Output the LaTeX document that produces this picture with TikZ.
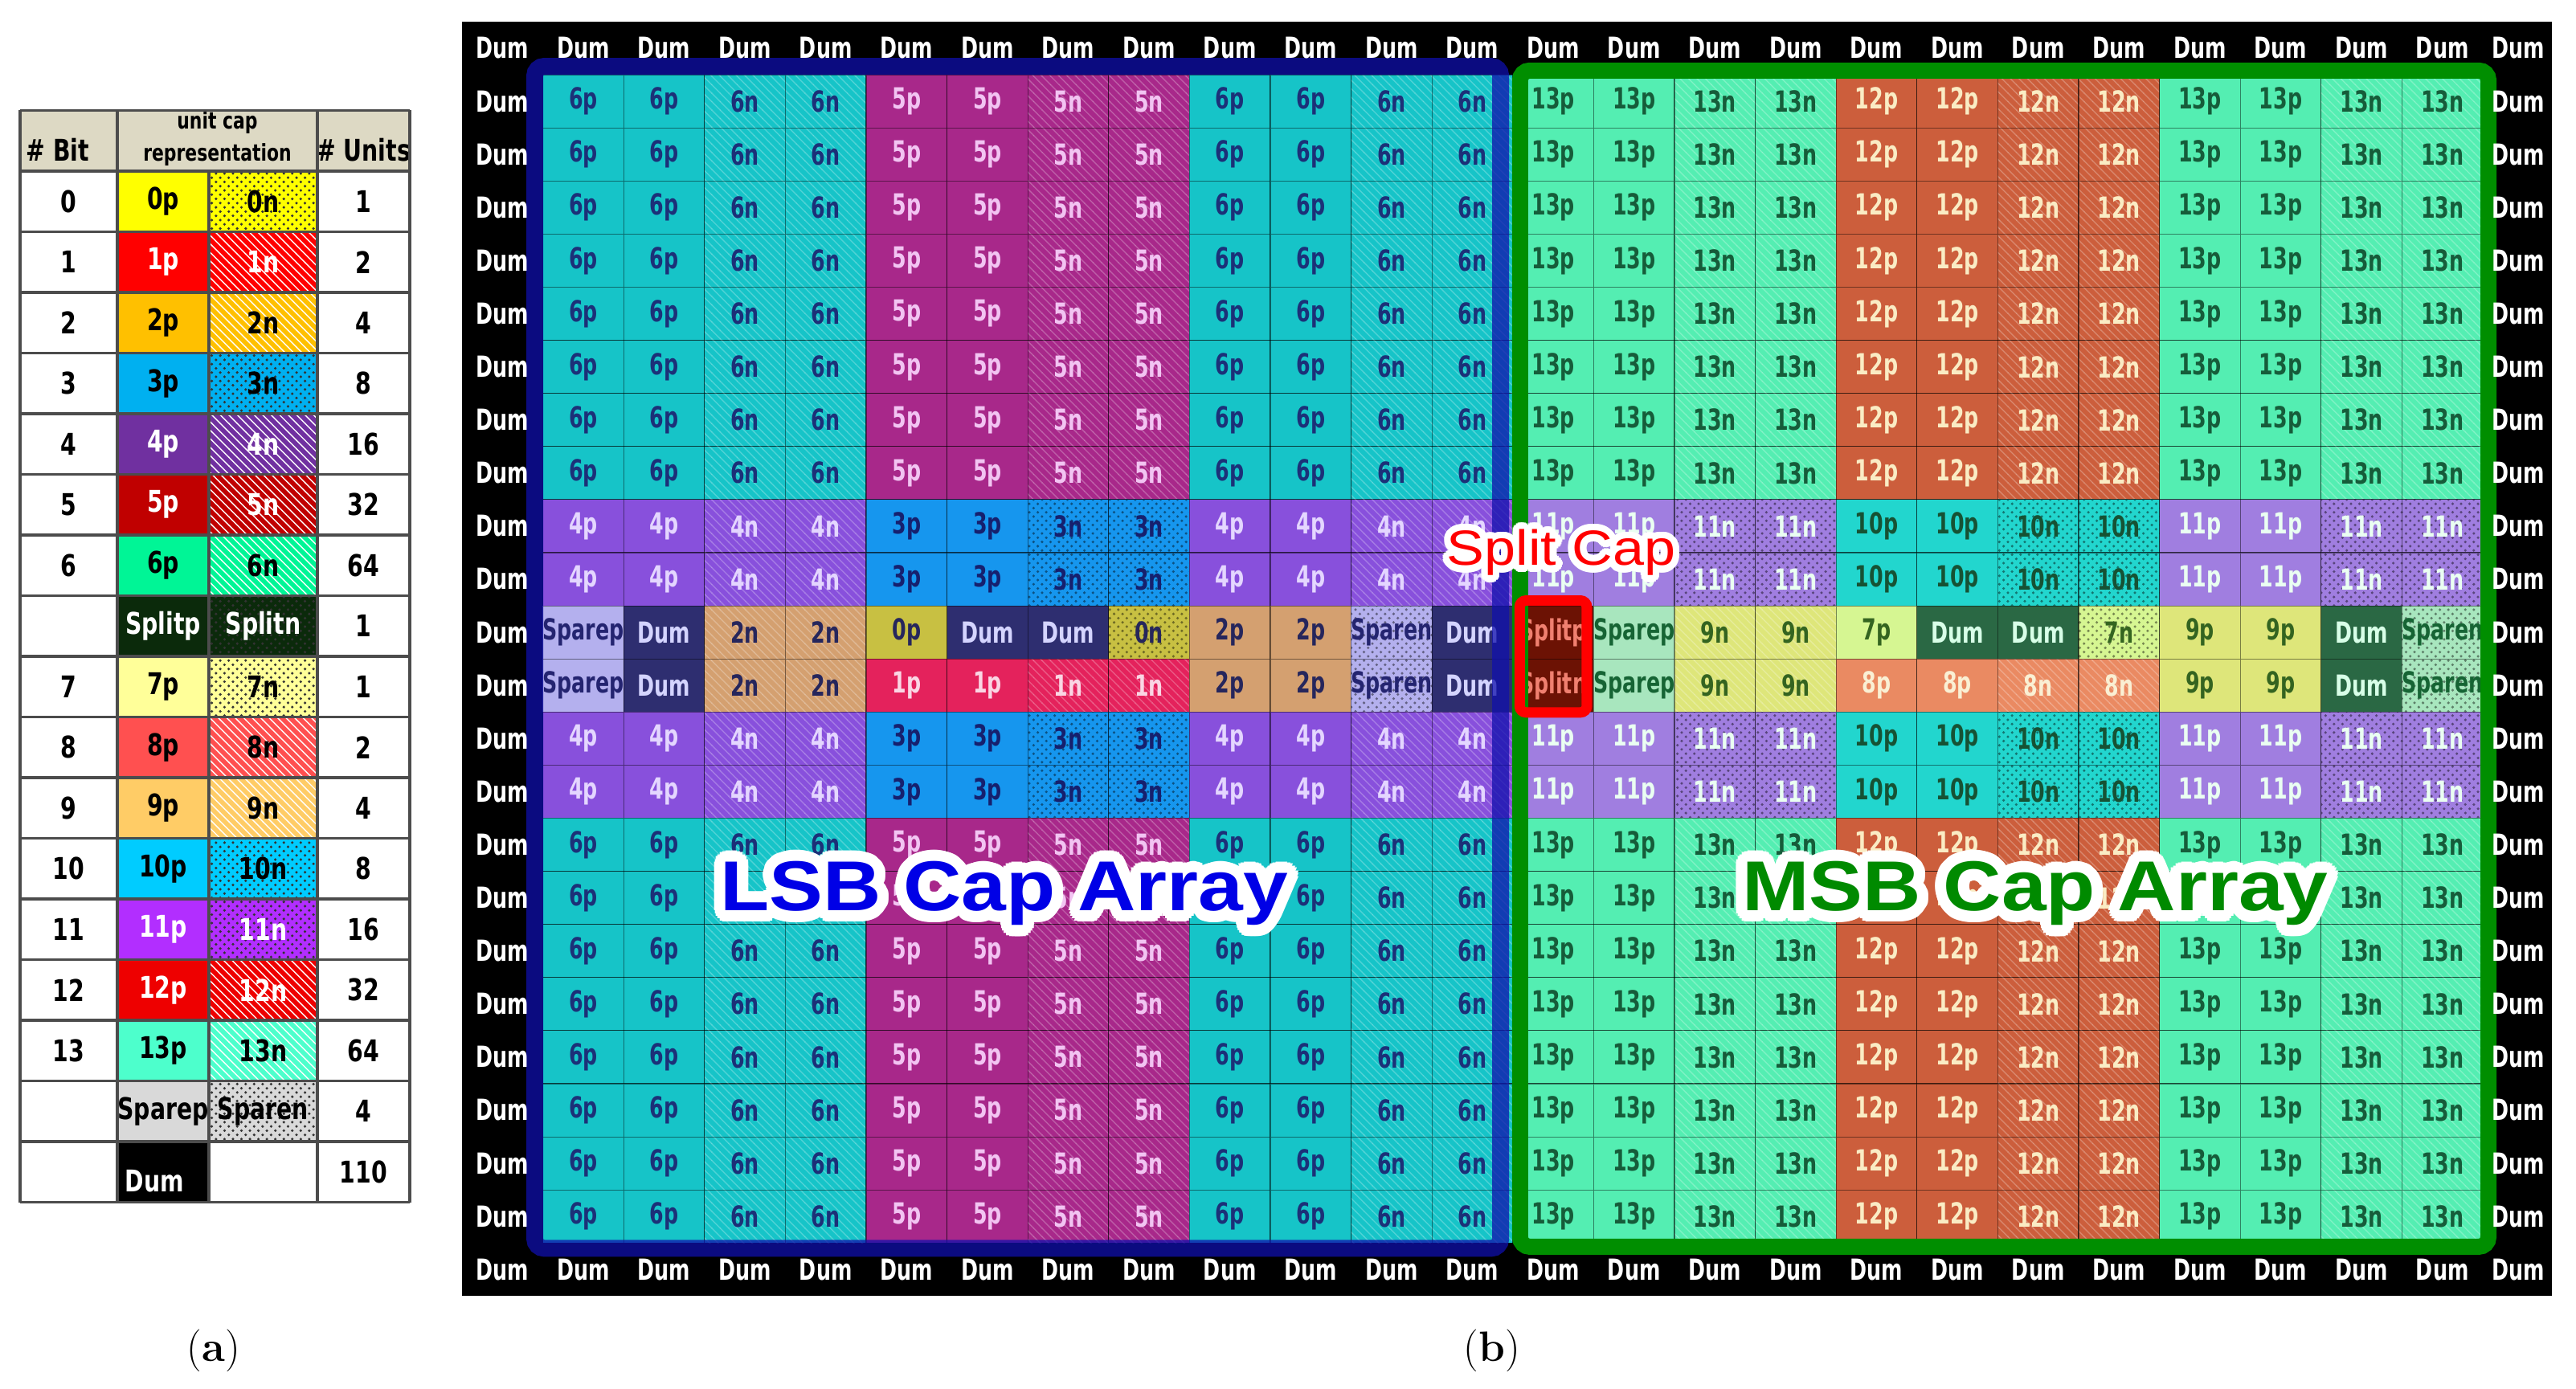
\documentclass[tikz,border=0pt]{standalone}
\usepackage{fontspec}
\usetikzlibrary{patterns,calc,fit}

\newfontfamily\cellfont[FakeStretch=0.70]{DejaVu Sans}
\newfontfamily\tabfont[FakeStretch=0.76]{DejaVu Sans}
\newfontfamily\labelfont[FakeStretch=1.14]{Liberation Sans}

% legend colours
\definecolor{headbg}{RGB}{221,217,196}
\definecolor{T0}{RGB}{255,255,0}
\definecolor{T1}{RGB}{255,0,0}
\definecolor{T2}{RGB}{255,192,0}
\definecolor{T3}{RGB}{0,176,240}
\definecolor{T4}{RGB}{112,48,160}
\definecolor{T5}{RGB}{192,0,0}
\definecolor{T6}{RGB}{0,245,150}
\definecolor{TS}{RGB}{11,42,11}
\definecolor{T7}{RGB}{255,255,153}
\definecolor{T8}{RGB}{255,80,80}
\definecolor{T9}{RGB}{255,204,102}
\definecolor{T10}{RGB}{0,204,255}
\definecolor{T11}{RGB}{178,46,255}
\definecolor{T12}{RGB}{238,0,0}
\definecolor{T13}{RGB}{77,255,204}
\definecolor{TSp}{RGB}{217,217,217}
% array colours, LSB half
\definecolor{L6}{RGB}{22,196,200}  \definecolor{L6t}{RGB}{28,48,120}
\definecolor{L5}{RGB}{168,40,138}  \definecolor{L5t}{RGB}{242,196,242}
\definecolor{L4}{RGB}{136,80,220}  \definecolor{L4t}{RGB}{228,214,255}
\definecolor{L3}{RGB}{22,150,238}  \definecolor{L3t}{RGB}{22,32,110}
\definecolor{L2}{RGB}{212,160,112} \definecolor{L2t}{RGB}{38,38,92}
\definecolor{L1}{RGB}{228,34,92}   \definecolor{L1t}{RGB}{250,214,228}
\definecolor{L0}{RGB}{200,192,66}  \definecolor{L0t}{RGB}{38,38,92}
\definecolor{LSp}{RGB}{180,176,238}\definecolor{LSpt}{RGB}{36,36,112}
\definecolor{LD}{RGB}{46,46,112}   \definecolor{LDt}{RGB}{212,212,255}
% array colours, MSB half
\definecolor{M13}{RGB}{84,238,178} \definecolor{M13t}{RGB}{22,92,58}
\definecolor{M12}{RGB}{204,94,60}  \definecolor{M12t}{RGB}{250,236,196}
\definecolor{M11}{RGB}{160,126,224}\definecolor{M11t}{RGB}{234,255,242}
\definecolor{M10}{RGB}{34,214,206} \definecolor{M10t}{RGB}{22,82,52}
\definecolor{M9}{RGB}{222,230,122} \definecolor{M9t}{RGB}{52,100,32}
\definecolor{M8}{RGB}{234,138,98}  \definecolor{M8t}{RGB}{250,240,212}
\definecolor{M7}{RGB}{214,246,146} \definecolor{M7t}{RGB}{52,100,32}
\definecolor{MSp}{RGB}{168,230,190}\definecolor{MSpt}{RGB}{22,100,52}
\definecolor{MD}{RGB}{42,104,68}   \definecolor{MDt}{RGB}{216,255,232}
\definecolor{MS}{RGB}{108,18,4}    \definecolor{MSt}{RGB}{240,128,112}
\definecolor{LF}{RGB}{16,16,172}
\definecolor{MF}{RGB}{0,142,0}
\definecolor{lsbtext}{RGB}{0,0,230}
\definecolor{msbtext}{RGB}{0,138,0}

% row contents of the two halves
\def\lsbA{6p,6p,6n,6n,5p,5p,5n,5n,6p,6p,6n,6n}
\def\lsbB{4p,4p,4n,4n,3p,3p,3n,3n,4p,4p,4n,4n}
\def\lsbC{Sparep,Dum,2n,2n,0p,Dum,Dum,0n,2p,2p,Sparen,Dum}
\def\lsbD{Sparep,Dum,2n,2n,1p,1p,1n,1n,2p,2p,Sparen,Dum}
\def\msbA{13p,13p,13n,13n,12p,12p,12n,12n,13p,13p,13n,13n}
\def\msbB{11p,11p,11n,11n,10p,10p,10n,10n,11p,11p,11n,11n}
\def\msbC{Splitp,Sparep,9n,9n,7p,Dum,Dum,7n,9p,9p,Dum,Sparen}
\def\msbD{Splitn,Sparep,9n,9n,8p,8p,8n,8n,9p,9p,Dum,Sparen}

\tikzset{
  cell/.style={draw=black, draw opacity=0.45, line width=0.3pt,
    minimum width=1.006cm, minimum height=0.661cm, inner sep=0pt,
    font=\cellfont\bfseries\fontsize{10.3}{11}\selectfont},
  dumtxt/.style={text=white, inner sep=0pt,
    font=\cellfont\bfseries\fontsize{10.3}{11}\selectfont},
  capp/.style 2 args={fill=#1, text=#2},
  capn/.style 2 args={preaction={fill=#1}, pattern=north west lines,
    pattern color=white!55!#1, text=#2},
  capd/.style 2 args={preaction={fill=#1}, pattern=crosshatch dots,
    pattern color=black!45!#1, text=#2},
  lsb/6p/.style={capp={L6}{L6t}}, lsb/6n/.style={capn={L6}{L6t}},
  lsb/5p/.style={capp={L5}{L5t}}, lsb/5n/.style={capn={L5}{L5t}},
  lsb/4p/.style={capp={L4}{L4t}}, lsb/4n/.style={capn={L4}{L4t}},
  lsb/3p/.style={capp={L3}{L3t}}, lsb/3n/.style={capd={L3}{L3t}},
  lsb/2p/.style={capp={L2}{L2t}}, lsb/2n/.style={capn={L2}{L2t}},
  lsb/1p/.style={capp={L1}{L1t}}, lsb/1n/.style={capn={L1}{L1t}},
  lsb/0p/.style={capp={L0}{L0t}}, lsb/0n/.style={capd={L0}{L0t}},
  lsb/Sparep/.style={capp={LSp}{LSpt}}, lsb/Sparen/.style={capd={LSp}{LSpt}},
  lsb/Dum/.style={capp={LD}{LDt}},
  msb/13p/.style={capp={M13}{M13t}}, msb/13n/.style={capn={M13}{M13t}},
  msb/12p/.style={capp={M12}{M12t}}, msb/12n/.style={capn={M12}{M12t}},
  msb/11p/.style={capp={M11}{M11t}}, msb/11n/.style={capd={M11}{M11t}},
  msb/10p/.style={capp={M10}{M10t}}, msb/10n/.style={capd={M10}{M10t}},
  msb/9p/.style={capp={M9}{M9t}},   msb/9n/.style={capn={M9}{M9t}},
  msb/8p/.style={capp={M8}{M8t}},   msb/8n/.style={capn={M8}{M8t}},
  msb/7p/.style={capp={M7}{M7t}},   msb/7n/.style={capd={M7}{M7t}},
  msb/Splitp/.style={capp={MS}{MSt}}, msb/Splitn/.style={capp={MS}{MSt}},
  msb/Sparep/.style={capp={MSp}{MSpt}}, msb/Sparen/.style={capd={MSp}{MSpt}},
  msb/Dum/.style={capp={MD}{MDt}},
  tabcell/.style={minimum height=0.755cm, inner sep=0pt,
    font=\tabfont\bfseries\fontsize{10.6}{12}\selectfont},
  tabhead/.style={inner sep=0pt, font=\tabfont\bfseries\fontsize{10.6}{12}\selectfont},
  tabsub/.style={inner sep=0pt, font=\tabfont\bfseries\fontsize{8.2}{9}\selectfont},
  tab lines/.style={preaction={fill=#1}, pattern=north west lines, pattern color=white},
  tab dots/.style={preaction={fill=#1}, pattern=crosshatch dots, pattern color=black!80},
  tabline/.style={draw=black!70, line width=0.9pt},
  lsb frame/.style={draw=LF, draw opacity=0.75, line width=0.21cm, rounded corners=0.12cm},
  msb frame/.style={draw=MF, line width=0.20cm, rounded corners=0.12cm},
  split box/.style={draw=red, line width=0.13cm, rounded corners=0.08cm,
    inner xsep=-0.09cm, inner ysep=0.03cm, yshift=0.03cm},
  array label/.style={anchor=base, inner sep=0pt,
    font=\labelfont\bfseries\fontsize{25}{30}\selectfont},
  split label/.style={anchor=base, inner sep=0pt,
    font=\labelfont\fontsize{17.5}{21}\selectfont},
  caption/.style={inner sep=0pt, font=\fontsize{15}{18}\selectfont}
}

\begin{document}
\begin{tikzpicture}
  \path[use as bounding box, fill=white] (0,0) rectangle (32.06,17.29);

  % (a) legend table
  \begin{scope}[shift={(0.25,15.16)}, y=-0.755cm]
    \fill[headbg] (0,-1) rectangle (4.85,0);
    \node[tabhead, anchor=base west] (bithead) at (0.07,-0.17) {\# Bit};
    \node[tabsub, anchor=base] (rephead1) at (2.455,-0.69) {unit cap};
    \node[tabsub, anchor=base] (rephead2) at (2.455,-0.17) {representation};
    \node[tabhead, anchor=base] (unithead) at (4.275,-0.17) {\# Units};
    \foreach \b/\p/\n/\u/\col/\fg/\pat [count=\k] in {
        0/0p/0n/1/T0/black/dots, 1/1p/1n/2/T1/white/lines,
        2/2p/2n/4/T2/black/lines, 3/3p/3n/8/T3/black/dots,
        4/4p/4n/16/T4/white/lines, 5/5p/5n/32/T5/white/lines,
        6/6p/6n/64/T6/black/lines, /Splitp/Splitn/1/TS/white/dots,
        7/7p/7n/1/T7/black/dots, 8/8p/8n/2/T8/black/lines,
        9/9p/9n/4/T9/black/lines, 10/10p/10n/8/T10/black/dots,
        11/11p/11n/16/T11/white/dots, 12/12p/12n/32/T12/white/lines,
        13/13p/13n/64/T13/black/lines, /Sparep/Sparen/4/TSp/black/dots} {
      \node[tabcell, minimum width=1.21cm] (bit-\k) at (0.605,\k-0.5) {\b};
      \node[tabcell, minimum width=1.14cm, fill=\col, text=\fg] (p-\k) at (1.78,\k-0.5) {\p};
      \node[tabcell, minimum width=1.35cm, tab \pat=\col, text=\fg] (n-\k) at (3.025,\k-0.5) {\n};
      \node[tabcell, minimum width=1.15cm] (units-\k) at (4.275,\k-0.5) {\u};
    }
    \fill[black] (1.21,16) rectangle (2.35,17);
    \node[tabhead, text=white, anchor=base west] (dumkey) at (1.30,16.83) {Dum};
    \node[tabcell, minimum width=1.15cm] (units-17) at (4.275,16.5) {110};
    \foreach \k in {-1,0,...,17} \draw[tabline] (0,\k) -- (4.85,\k);
    \foreach \x in {0,1.21,3.70,4.85} \draw[tabline] (\x,-1) -- (\x,17);
    \draw[tabline] (2.35,0) -- (2.35,17);
  \end{scope}

  % (b) the cap array, one unit per cell
  \begin{scope}[shift={(5.75,17.02)}, x=1.006cm, y=-0.661cm]
    \fill[black] (0,0) rectangle (25.85,24);
    \foreach \r/\k in {1/A,2/A,3/A,4/A,5/A,6/A,7/A,8/A,9/B,10/B,11/C,
        12/D,13/B,14/B,15/A,16/A,17/A,18/A,19/A,20/A,21/A,22/A} {
      \edef\lrow{\csname lsb\k\endcsname}
      \edef\mrow{\csname msb\k\endcsname}
      \foreach \t [count=\c] in \lrow
        \node[cell, lsb/\t] (L-\c-\r) at (\c+0.5,\r+0.5) {\t};
      \foreach \t [count=\c from 13] in \mrow
        \node[cell, msb/\t] (M-\c-\r) at (\c+0.5,\r+0.5) {\t};
    }
    \draw[lsb frame] (0.90,0.84) rectangle (12.85,23.10);
    \draw[msb frame] (13.09,0.92) rectangle (25.07,23.07);
    \node[split box, fit=(M-13-11)(M-13-12)] (splitbox) {};
    % ring of dummies
    \foreach \c in {0,...,25} {
      \pgfmathsetmacro\xc{min(\c+0.5,25.44)}
      \node[dumtxt] (top-\c) at (\xc,0.5) {Dum};
      \node[dumtxt] (bot-\c) at (\xc,23.5) {Dum};
    }
    \foreach \r in {1,...,22} {
      \node[dumtxt] (left-\r) at (0.5,\r+0.5) {Dum};
      \node[dumtxt] (right-\r) at (25.44,\r+0.5) {Dum};
    }
  \end{scope}

  % labels with a white halo
  \coordinate (lsbpos) at (12.50,5.95);
  \coordinate (msbpos) at (25.33,5.95);
  \coordinate (splitpos) at (19.43,10.25);
  \foreach \rad in {0.07,0.14}
    \foreach \a in {0,15,...,345} {
      \pgfmathsetmacro\srad{0.6*\rad}
      \node[array label, text=white] at ($(lsbpos)+(\a:\rad)$) {LSB Cap Array};
      \node[array label, text=white] at ($(msbpos)+(\a:\rad)$) {MSB Cap Array};
      \node[split label, text=white] at ($(splitpos)+(\a:\srad)$) {Split Cap};
    }
  \node[array label, text=lsbtext] (lsb) at (lsbpos) {LSB Cap Array};
  \node[array label, text=msbtext] (msb) at (msbpos) {MSB Cap Array};
  \node[split label, text=red] (split) at (splitpos) {Split Cap};

  \node[caption] (capa) at (2.66,0.48) {(\textbf{a})};
  \node[caption] (capb) at (18.57,0.48) {(\textbf{b})};
\end{tikzpicture}
\end{document}
